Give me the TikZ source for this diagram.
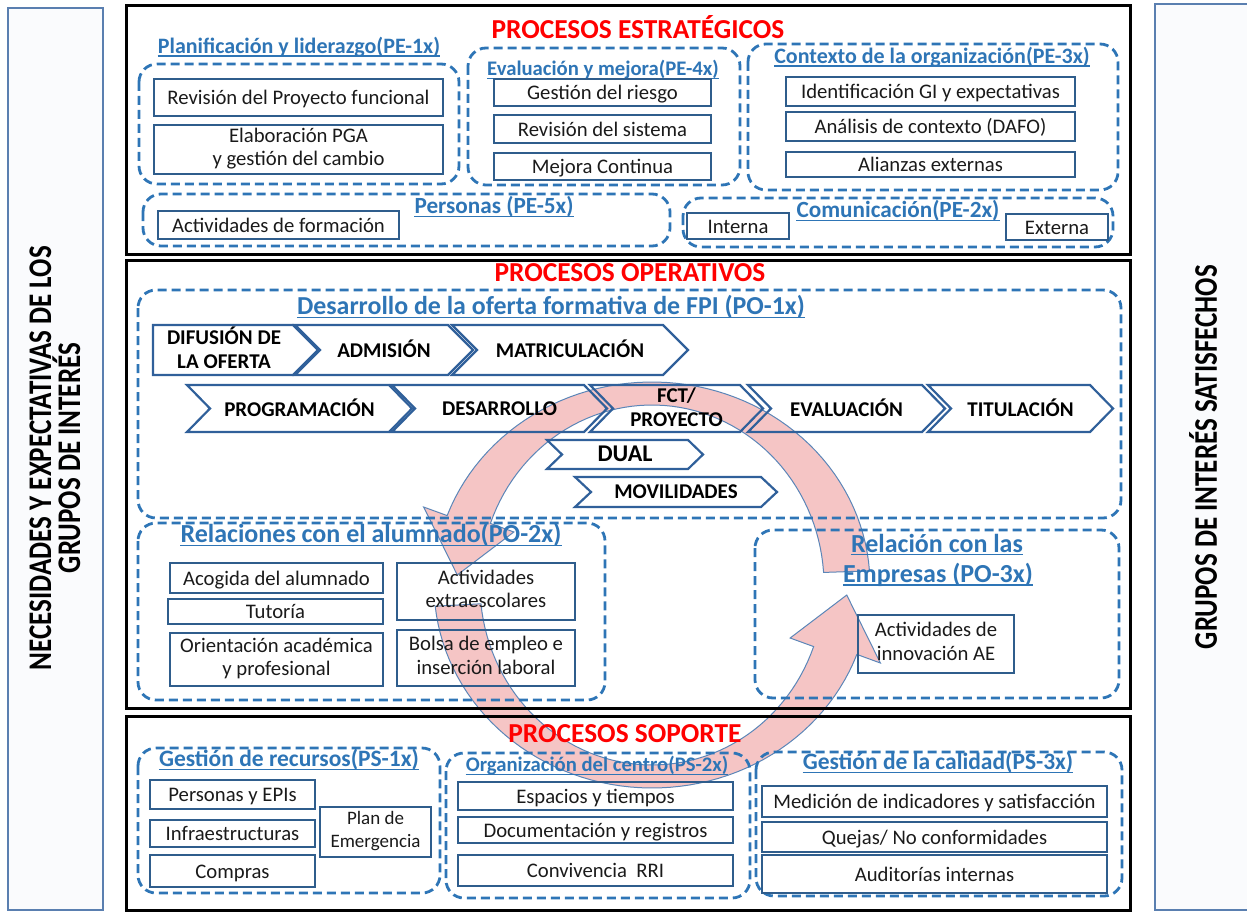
\documentclass[tikz,border=0pt]{standalone}
\usepackage{fontspec}
\setmainfont{Carlito}
\newfontfamily\condf[FakeStretch=0.82]{Carlito}
\usetikzlibrary{calc}
\definecolor{dblue}{HTML}{2E75B6}
\definecolor{bxc}{HTML}{2F5D8C}
\definecolor{chc}{HTML}{30609A}
\definecolor{sidec}{HTML}{5A7FB0}
\definecolor{sidef}{HTML}{FAFBFD}
\definecolor{pinkf}{HTML}{F5C5C5}
\definecolor{pinkl}{HTML}{5B86B8}
\definecolor{txtc}{HTML}{1A1A1A}
\pgfdeclarelayer{bg}
\pgfsetlayers{bg,main}
\newcommand\bx[6]{\node[pbox, minimum width={(#4-#2)*1pt}, minimum height={(#5-#3)*1pt}] (#1) at ({(#2+#4)/2},{(#3+#5)/2}) {#6};}
\newcommand\hd[5]{\node[hdst, font=\bfseries\fontsize{#4}{#4}\selectfont] (#1) at (#2,#3) {#5};
  \draw[hdul] ([yshift=-2.6pt]#1.base west) -- ([yshift=-2.6pt]#1.base east);}
\newcommand\chv[7]{%
  \draw[chst] (#2,#4) -- (#3,#4) -- ({#3+#6},{(#4+#5)/2}) -- (#3,#5) -- (#2,#5) -- ({#2+#6},{(#4+#5)/2}) -- cycle;
  \node[chtx] (#1) at ({(#2+#3)/2+#6/2},{(#4+#5)/2}) {#7};}
\newcommand\capstrut{\rule[-2.5pt]{0pt}{18pt}}
\newcommand\bxstrut{\rule[-5.5pt]{0pt}{25.5pt}}
\begin{document}
\begin{tikzpicture}[x=1pt,y=-1pt,
  grp/.style={draw=dblue, line width=2.8pt, dash pattern=on 9pt off 5pt, rounded corners=18pt},
  sec/.style={draw=black, line width=3pt},
  pbox/.style={draw=bxc, line width=2.2pt, align=center, inner sep=0pt, text=txtc, font=\fontsize{20.7}{23.5}\selectfont,
    execute at begin node=\bxstrut, execute at end node=\bxstrut},
  hdst/.style={inner sep=0pt, text=dblue},
  hdul/.style={draw=dblue, line width=1.5pt},
  ttl/.style={inner sep=0pt, text=red, font=\bfseries\fontsize{27.4}{28}\selectfont},
  chst/.style={draw=chc, line width=2.2pt, line join=miter},
  chtx/.style={inner sep=0pt, align=center, text=black, font=\bfseries\fontsize{21}{23.5}\selectfont,
    execute at begin node=\capstrut, execute at end node=\capstrut},
  sidebox/.style={draw=sidec, line width=2pt, fill=sidef},
  sidelbl/.style={rotate=90, align=center, inner sep=0pt, text=black, font=\condf\bfseries\fontsize{33}{29}\selectfont},
  band/.style={fill=pinkf, draw=pinkl, line width=1pt, line join=miter}
]
\useasboundingbox (0,0) rectangle (1247,912);
% side panels
\draw[sidebox] (8,8) rectangle (103,910);
\node[sidelbl] (nl) at (55,458) {NECESIDADES Y EXPECTATIVAS DE LOS\\GRUPOS DE INTERÉS};
\draw[sidebox] (1155,4) rectangle (1254,910);
\node[sidelbl] (nr) at (1203,457) {GRUPOS DE INTERÉS SATISFECHOS};
% sections
\draw[sec] (126,6) rectangle (1130,254);
\draw[sec] (126,260) rectangle (1130,708);
\draw[sec] (126,716) rectangle (1130,910);
\node[ttl] (tpe) at (638,27) {PROCESOS ESTRATÉGICOS};
\node[ttl] (tpo) at (630,273) {PROCESOS OPERATIVOS};
\node[ttl] (tps) at (625,734) {PROCESOS SOPORTE};
% ---------- estrategicos
\draw[grp] (139,64) rectangle (459,184);
\draw[grp] (468,48) rectangle (740,185);
\draw[grp] (748,44) rectangle (1118,190);
\draw[grp] (143,194) rectangle (670,246);
\draw[grp] (683,198) rectangle (1113,247);
\hd{h1}{299}{47}{22}{Planificación y liderazgo(PE-1x)}
\hd{h4}{603}{70}{20.7}{Evaluación y mejora(PE-4x)}
\hd{h3}{932}{57}{22}{Contexto de la organización(PE-3x)}
\hd{h5}{494}{207}{23.2}{Personas (PE-5x)}
\hd{h2}{898}{211}{23.2}{Comunicación(PE-2x)}
\bx{b1}{154}{79}{443}{116}{Revisión del Proyecto funcional}
\bx{b2}{154}{125}{443}{174}{Elaboración PGA\\y gestión del cambio}
\bx{b3}{494}{79}{711}{106}{Gestión del riesgo}
\bx{b4}{494}{115}{711}{143}{Revisión del sistema}
\bx{b5}{494}{153}{711}{180}{Mejora Continua}
\bx{b6}{786}{77}{1075}{106}{Identificación GI y expectativas}
\bx{b7}{786}{112}{1075}{141}{Análisis de contexto (DAFO)}
\bx{b8}{786}{152}{1075}{177}{Alianzas externas}
\bx{b9}{158}{211}{399}{239}{Actividades de formación}
\bx{b10}{687}{213}{789}{239}{Interna}
\bx{b11}{1006}{215}{1108}{239}{Externa}
% ---------- operativos
\draw[grp] (138,290) rectangle (1121,518);
\draw[grp] (138,523) rectangle (605,700);
\draw[grp] (755,530) rectangle (1119,698);
\hd{hpo1}{551}{307}{25.9}{Desarrollo de la oferta formativa de FPI (PO-1x)}
\hd{hpo2}{371}{535}{26}{Relaciones con el alumnado(PO-2x)}
\hd{hpo3a}{937}{543}{26}{Relación con las}
\hd{hpo3b}{938}{575}{26}{Empresas (PO-3x)}
% chevrons row 1
\draw[chst] (153,325) -- (293,325) -- (318,350) -- (293,375) -- (153,375) -- cycle;
\node[chtx] (c1) at (224,349) {DIFUSIÓN DE\\LA OFERTA};
\chv{c2}{295}{448}{325}{375}{25}{ADMISIÓN}
\chv{c3}{452}{663}{325}{375}{25}{MATRICULACIÓN}
% row 2
\chv{c4}{187}{389}{385}{432}{23}{PROGRAMACIÓN}
\chv{c5}{392}{584}{385}{432}{23}{DESARROLLO}
\chv{c6}{590}{740}{385}{432}{23}{FCT/\\PROYECTO}
\chv{c7}{748}{922}{385}{432}{23}{EVALUACIÓN}
\chv{c8}{928}{1090}{385}{432}{23}{TITULACIÓN}
\chv{c9}{547}{688}{440}{469}{15}{\fontsize{24}{24}\selectfont DUAL}
\chv{c10}{575}{761}{477}{507}{16}{MOVILIDADES}
\bx{m1}{170}{563}{383}{593}{Acogida del alumnado}
\bx{m2}{168}{599}{383}{624}{Tutoría}
\bx{m3}{170}{633}{383}{686}{Orientación académica\\y profesional}
\bx{m4}{397}{563}{575}{620}{Actividades\\extraescolares}
\bx{m5}{397}{630}{575}{686}{Bolsa de empleo e\\inserción laboral}
\bx{m6}{858}{615}{1014}{673}{Actividades de\\innovación AE}
% ---------- soporte
\draw[grp] (138,748) rectangle (440,893);
\draw[grp] (446,753) rectangle (750,898);
\draw[grp] (756,752) rectangle (1122,896);
\hd{hps1}{289}{760}{23.5}{Gestión de recursos(PS-1x)}
\hd{hps2}{597}{766}{20.7}{Organización del centro(PS-2x)}
\hd{hps3}{938}{763}{23.5}{Gestión de la calidad(PS-3x)}
\bx{s1}{150}{780}{315}{809}{Personas y EPIs}
\bx{s2}{150}{820}{315}{847}{Infraestructuras}
\bx{s3}{150}{855}{315}{887}{Compras}
\bx{s4}{320}{807}{431}{857}{\fontsize{19}{22}\selectfont Plan de\\\fontsize{19}{22}\selectfont Emergencia}
\bx{s5}{458}{782}{733}{810}{Espacios y tiempos}
\bx{s6}{458}{817}{733}{843}{Documentación y registros}
\bx{s7}{458}{855}{733}{886}{Convivencia~~RRI}
\bx{s8}{762}{786}{1107}{817}{Medición de indicadores y satisfacción}
\bx{s9}{762}{822}{1107}{852}{Quejas/ No conformidades}
\bx{s10}{762}{855}{1107}{893}{Auditorías internas}
% ---------- circular arrows
\begin{pgfonlayer}{bg}
\path[band] plot[domain=-4:-160,samples=60] ({652+218*cos(\x)},{585+203*sin(\x)})
  -- ({652+243*cos(-160)},{585+228*sin(-160)})
  -- ({652+195*cos(-177)},{585+191.5*sin(-177)})
  -- ({652+147*cos(-160)},{585+155*sin(-160)})
  -- plot[domain=-160:-4,samples=60] ({652+172*cos(\x)},{585+180*sin(\x)}) -- cycle;
\path[band] plot[domain=174:20,samples=60] ({652+218*cos(\x)},{585+203*sin(\x)})
  -- ({652+243*cos(20)},{585+228*sin(20)})
  -- ({652+195*cos(3)},{585+191.5*sin(3)})
  -- ({652+147*cos(20)},{585+155*sin(20)})
  -- plot[domain=20:174,samples=60] ({652+172*cos(\x)},{585+180*sin(\x)}) -- cycle;
\end{pgfonlayer}
\end{tikzpicture}
\end{document}
